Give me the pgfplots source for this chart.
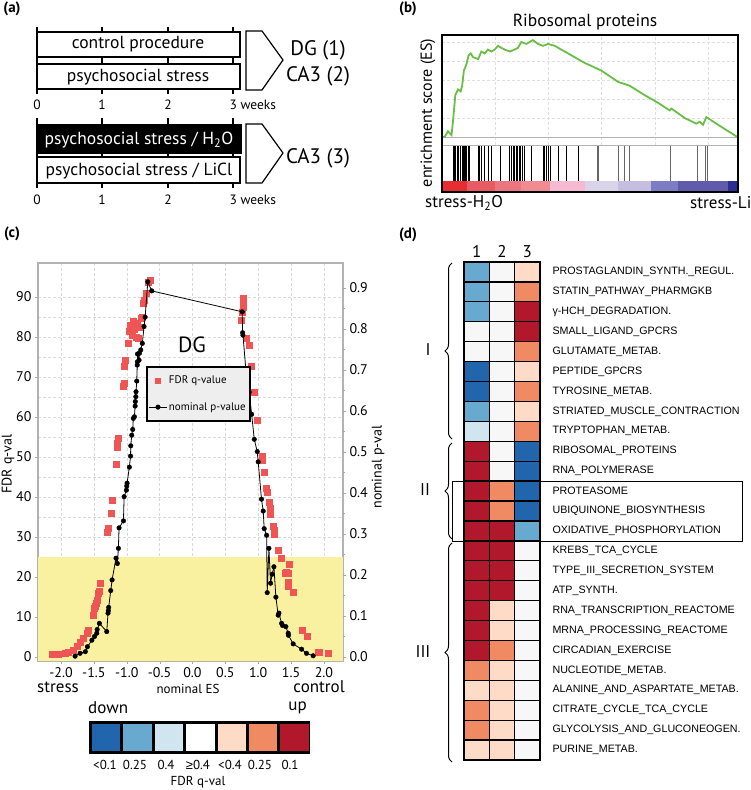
\documentclass[border=0pt]{standalone}
\usepackage{pgfplots}
\pgfplotsset{compat=1.18}
\usepackage{fontspec}
\setmainfont{PT Sans}
\newfontfamily\arial{Liberation Sans}
\usetikzlibrary{decorations.pathreplacing}
\newcommand{\fs}[1]{\fontsize{#1pt}{#1pt}\selectfont}
\definecolor{qB}{RGB}{33,102,172}
\definecolor{qb}{RGB}{103,169,207}
\definecolor{ql}{RGB}{209,229,240}
\definecolor{qw}{RGB}{247,247,247}
\definecolor{qp}{RGB}{253,219,199}
\definecolor{qo}{RGB}{239,138,98}
\definecolor{qr}{RGB}{178,24,43}
\definecolor{fdrred}{RGB}{240,85,85}
\definecolor{esgreen}{RGB}{106,190,69}
\definecolor{band}{RGB}{249,241,160}
\begin{document}
\begin{tikzpicture}[x=1pt,y=1pt]
\useasboundingbox (0,0) rectangle (750,790);
% ---------------- panel letters
\node[font=\bfseries\fs{15}] at (12,781) {(a)};
\node[font=\bfseries\fs{15}] at (408,781) {(b)};
\node[font=\bfseries\fs{15}] at (12,556) {(c)};
\node[font=\bfseries\fs{15}] at (408,555) {(d)};
% ---------------- panel (a)
\begin{scope}[line width=1.2pt]
\foreach \x in {37,102,168,233} {\draw (\x,763) -- (\x,696);}
\draw[fill=white] (37,758) rectangle (240,733);
\draw[fill=white] (37,726) rectangle (240,701);
\node[font=\fs{17.5}] at (138,746) {control procedure};
\node[font=\fs{17.5}] at (138,713) {psychosocial stress};
\draw (246,759) -- (262,759) -- (283,730) -- (262,700) -- (246,700) -- cycle;
\node[font=\fs{21}] at (318,740) {DG (1)};
\node[font=\fs{21}] at (318,714) {CA3 (2)};
\foreach \x/\l in {37/0,102/1,168/2} {\node[font=\fs{13.5}] at (\x,685) {\l};}
\node[font=\fs{13.5},anchor=west,inner sep=0pt] at (229,685) {3 weeks};
\foreach \x in {37,102,168,233} {\draw (\x,672) -- (\x,602);}
\draw[fill=black] (37,665) rectangle (241,637);
\draw[fill=white] (37,633) rectangle (240,607);
\node[font=\fs{17.5},text=white] at (139,650) {psychosocial stress / H\textsubscript{2}O};
\node[font=\fs{17.5}] at (139,619) {psychosocial stress / LiCl};
\draw (246,666) -- (262,666) -- (283,637) -- (262,607) -- (246,607) -- cycle;
\node[font=\fs{21}] at (318,632) {CA3 (3)};
\foreach \x/\l in {37/0,102/1,168/2} {\node[font=\fs{13.5}] at (\x,590) {\l};}
\node[font=\fs{13.5},anchor=west,inner sep=0pt] at (229,590) {3 weeks};
\end{scope}
% ---------------- panel (b)
\node[font=\fs{17.5}] at (585,768) {Ribosomal proteins};
\node[font=\fs{16},rotate=90] at (428,677) {enrichment score (ES)};
\node[font=\fs{17}] at (464,587) {stress-H\textsubscript{2}O};
\node[font=\fs{17},anchor=west,inner sep=0pt] at (690,587) {stress-Li};
\begin{axis}[at={(442pt,645pt)}, anchor=south west, scale only axis, width=296pt, height=110pt,
  xmin=0, xmax=100, ymin=-0.042, ymax=0.537,
  axis line style={draw=none}, xtick={17.9,35.9,53.9,71.9,89.9}, ytick={0.1,0.2,0.3,0.4,0.5},
  xticklabels={}, yticklabels={}, major tick length=0pt, grid=major, grid style={densely dashed, gray!25}]
\addplot[gray!60, line width=0.8pt] coordinates {(0,0) (100,0)};
\addplot[esgreen, line width=1.8pt] coordinates {
(0.3,0) (0.9,0) (2.0,0.03) (3.2,0.01) (3.7,0.08) (4.5,0.22) (5.4,0.25) (6.3,0.24) (6.8,0.27)
(7.4,0.35) (8.2,0.38) (9.0,0.43) (9.7,0.44) (10.5,0.42) (12.2,0.41) (13.3,0.45) (14.4,0.44)
(15.5,0.46) (16.7,0.45) (17.8,0.46) (18.9,0.48) (20.0,0.47) (21.2,0.46) (22.9,0.45) (24.5,0.46)
(25.7,0.47) (26.8,0.50) (28.5,0.49) (29.6,0.50) (30.7,0.51) (32.4,0.49) (34.1,0.48) (35.8,0.49)
(38.1,0.48) (40.3,0.46) (42.6,0.44) (48.2,0.39) (53.8,0.35) (59.5,0.29) (63.4,0.27) (68.5,0.22)
(73.0,0.18) (76.9,0.14) (77.5,0.15) (82.0,0.10) (85.9,0.07) (87.0,0.08) (88.2,0.065) (89.3,0.105)
(93.2,0.065) (99.8,0.0)};
\end{axis}
\begin{axis}[at={(442pt,609pt)}, anchor=south west, scale only axis, width=296pt, height=36pt,
  xmin=0, xmax=100, ymin=0, ymax=1, hide axis]
\addplot[ycomb, black, line width=0.7pt, mark=none] coordinates {
(3.7,1) (4.3,1) (4.6,1) (5.2,1) (5.6,1) (6.3,1) (6.8,1) (7.1,1) (7.4,1) (7.9,1) (8.3,1) (8.8,1)
(9.1,1) (12.2,1) (12.7,1) (13.3,1) (14.4,1) (15.5,1) (16.7,1) (19.7,1) (22.9,1) (23.4,1) (24.0,1)
(24.5,1) (25.0,1) (25.5,1) (26.0,1) (26.6,1) (27.1,1) (27.9,1) (30.2,1) (34.1,1) (34.7,1) (35.2,1)
(35.8,1) (36.6,1) (39.2,1) (42.0,1) (45.9,1)};
\addplot[ycomb, black!60, line width=0.7pt, mark=none] coordinates {
(52.4,1) (52.8,1) (59.5,1) (61.7,1) (63.4,1) (77.1,1) (86.3,1) (89.0,1) (89.6,1)};
\end{axis}
\begin{axis}[at={(442pt,599pt)}, anchor=south west, scale only axis, width=296pt, height=10pt,
  xmin=0, xmax=100, ymin=0, ymax=1, hide axis]
\addplot[draw=none, fill={rgb,255:red,230;green,45;blue,50}] coordinates {(0,0) (8.3,0) (8.3,1) (0,1)} -- cycle;
\addplot[draw=none, fill={rgb,255:red,232;green,90;blue,100}] coordinates {(8.3,0) (17.8,0) (17.8,1) (8.3,1)} -- cycle;
\addplot[draw=none, fill={rgb,255:red,236;green,118;blue,128}] coordinates {(17.8,0) (26.8,0) (26.8,1) (17.8,1)} -- cycle;
\addplot[draw=none, fill={rgb,255:red,240;green,140;blue,145}] coordinates {(26.8,0) (36.4,0) (36.4,1) (26.8,1)} -- cycle;
\addplot[draw=none, fill={rgb,255:red,245;green,185;blue,210}] coordinates {(36.4,0) (48.2,0) (48.2,1) (36.4,1)} -- cycle;
\addplot[draw=none, fill={rgb,255:red,218;green,212;blue,235}] coordinates {(48.2,0) (59.5,0) (59.5,1) (48.2,1)} -- cycle;
\addplot[draw=none, fill={rgb,255:red,198;green,190;blue,225}] coordinates {(59.5,0) (70.7,0) (70.7,1) (59.5,1)} -- cycle;
\addplot[draw=none, fill={rgb,255:red,125;green,125;blue,195}] coordinates {(70.7,0) (79.7,0) (79.7,1) (70.7,1)} -- cycle;
\addplot[draw=none, fill={rgb,255:red,95;green,90;blue,170}] coordinates {(79.7,0) (96.6,0) (96.6,1) (79.7,1)} -- cycle;
\addplot[draw=none, fill={rgb,255:red,45;green,45;blue,150}] coordinates {(96.6,0) (100,0) (100,1) (96.6,1)} -- cycle;
\end{axis}
\draw[gray!60, line width=0.8pt] (442,645) -- (738,645);
\draw[line width=1.5pt] (442,598) rectangle (738,755);
% ---------------- panel (c)
\begin{axis}[at={(38pt,129pt)}, anchor=south west, scale only axis, width=305pt, height=398pt,
  xmin=-2.35, xmax=2.29, ymin=-1, ymax=98.5,
  axis line style={gray!60, line width=1.5pt},
  xtick={-2,-1.5,-1,-0.5,0,0.5,1,1.5,2}, ytick={0,10,20,30,40,50,60,70,80,90},
  minor y tick num=1, xtick pos=bottom, ytick pos=left, tick align=outside,
  major tick length=3pt, minor tick length=0pt, tick style={gray!70},
  grid=both, major grid style={densely dashed, gray!30}, minor grid style={densely dashed, gray!30},
  tick label style={font=\fs{14}}, /pgf/number format/assume math mode=true,
  xticklabel style={/pgf/number format/.cd, fixed, fixed zerofill, precision=1}]
\addplot[draw=none, fill=band] coordinates {(-2.35,-1) (2.29,-1) (2.29,25) (-2.35,25)} -- cycle;
\addplot[only marks, mark=square*, mark size=3pt, fdrred] coordinates {
(-2.14,0.7) (-2.04,0.7) (-1.94,0.9) (-1.887,1.3) (-1.81,1.75) (-1.76,2.6) (-1.71,3.6) (-1.66,4.7)
(-1.60,5.9) (-1.583,6.75) (-1.517,10.5) (-1.49,12.3) (-1.482,12.6) (-1.47,13.4) (-1.456,14.25)
(-1.432,15.9) (-1.42,16.5) (-1.406,18.4) (-1.295,31.1) (-1.289,32.2) (-1.243,35.9) (-1.223,39.1)
(-1.163,48.25) (-1.143,52.4) (-1.138,53.4) (-1.127,54.8) (-1.05,67.6) (-1.04,68.4) (-1.04,72.6)
(-1.026,74.25) (-0.975,78.4) (-0.96,81.5) (-0.94,83) (-0.92,80.5) (-0.9,84) (-0.88,82) (-0.86,80)
(-0.84,83.5) (-0.82,79.8) (-0.80,82.5) (-0.78,84.8) (-0.772,85) (-0.747,88.4) (-0.73,89.25)
(-0.71,90.9) (-0.67,93.8) (-0.646,94.1)
(0.748,84.25) (0.757,86.2) (0.765,87.5) (0.772,88.8) (0.775,89.8) (0.824,79.7) (0.863,78)
(0.9,72.75) (0.94,66.2) (0.99,59.25) (1.061,50.25) (1.066,49.1) (1.091,46.1) (1.128,42.2)
(1.138,41.3) (1.168,38.8) (1.18,37.1) (1.19,35.6) (1.228,32.75) (1.24,31.75) (1.25,30.75)
(1.304,26.75) (1.345,24.8) (1.415,21) (1.432,21.3) (1.456,21) (1.471,23.25) (1.456,18.8)
(1.46,17.75) (1.532,16.3) (1.674,6.6) (1.745,5.1) (1.912,1.3) (1.93,1.2) (2.064,0.9)};
\end{axis}
\begin{axis}[at={(38pt,129pt)}, anchor=south west, scale only axis, width=305pt, height=398pt,
  xmin=-2.35, xmax=2.29, ymin=-0.00976, ymax=0.961,
  axis line style={draw=none}, xtick=\empty,
  ytick={0,0.1,0.2,0.3,0.4,0.5,0.6,0.7,0.8,0.9}, minor y tick num=1,
  ytick pos=right, tick align=outside, major tick length=3pt, minor tick length=2pt, tick style={gray!70},
  tick label style={font=\fs{14}}, /pgf/number format/assume math mode=true,
  yticklabel style={/pgf/number format/.cd, fixed, fixed zerofill, precision=1},
  legend style={at={(rel axis cs:0.354,0.741)}, anchor=north west, draw=black, line width=2.2pt,
    fill=gray!13, font=\fs{11}, inner xsep=2pt, inner ysep=7pt, row sep=13pt, cells={anchor=west}},
  legend cell align=left]
\addlegendimage{only marks, mark=square*, mark size=2.4pt, fdrred, line width=0.4pt}
\addlegendentry{FDR q-value}
\addplot[black, line width=0.8pt, mark=*, mark size=2.3pt, mark options={line width=0.4pt}] coordinates {
(-1.786,0.002) (-1.71,0.009) (-1.63,0.013) (-1.598,0.025) (-1.53,0.041) (-1.49,0.050) (-1.456,0.058)
(-1.45,0.067) (-1.416,0.082) (-1.304,0.062) (-1.285,0.107) (-1.28,0.113) (-1.275,0.121)
(-1.243,0.162) (-1.223,0.188) (-1.163,0.241) (-1.143,0.228) (-1.127,0.265) (-1.117,0.315)
(-1.05,0.332) (-1.04,0.391) (-1.005,0.407) (-1.0,0.417) (-0.995,0.424) (-0.96,0.463)
(-0.942,0.49) (-0.939,0.515) (-0.924,0.541) (-0.909,0.555) (-0.9,0.582) (-0.884,0.586)
(-0.872,0.612) (-0.869,0.623) (-0.862,0.635) (-0.859,0.647) (-0.848,0.673) (-0.84,0.712)
(-0.838,0.720) (-0.836,0.739) (-0.813,0.724) (-0.807,0.741) (-0.787,0.749) (-0.763,0.765)
(-0.737,0.806) (-0.72,0.829) (-0.68,0.915) (-0.62,0.893)
(0.757,0.842) (0.763,0.791) (0.768,0.785) (0.833,0.661) (0.863,0.646) (0.9,0.592) (0.94,0.531)
(0.985,0.501) (1.0,0.476) (1.05,0.385) (1.076,0.356) (1.091,0.313) (1.128,0.297) (1.137,0.157)
(1.163,0.265) (1.188,0.18) (1.213,0.202) (1.239,0.22) (1.269,0.146) (1.304,0.102) (1.315,0.107)
(1.356,0.082) (1.37,0.077) (1.42,0.074) (1.456,0.058) (1.46,0.053) (1.532,0.032) (1.66,0.019)
(1.735,0.009) (1.836,0.003)};
\addlegendentry{nominal p-value}
\end{axis}
\node[font=\fs{14},rotate=90] at (8,326) {FDR q-val};
\node[font=\fs{14},rotate=90] at (378,323) {nominal p-val};
\node[font=\fs{22}] at (192,445) {DG};
\node[font=\fs{17},anchor=west,inner sep=0pt] at (37,103) {stress};
\node[font=\fs{13}] at (188,101) {nominal ES};
\node[font=\fs{17},anchor=east,inner sep=0pt] at (345,103) {control};
% colour key
\node[font=\fs{17},anchor=west,inner sep=0pt] at (88,82) {down};
\node[font=\fs{17},anchor=east,inner sep=0pt] at (307,82) {up};
\fill[black] (89,36) rectangle (310,69);
\foreach \c [count=\i from 0] in {qB,qb,ql,white,qp,qo,qr} {
  \fill[\c] ({92+\i*31.4},39) rectangle ({92+\i*31.4+28.4},66);}
\foreach \x/\l in {105/{<0.1},135/0.25,166/0.4,230/{<0.4},260/0.25,290/0.1} {
  \node[font=\fs{13}] at (\x,25) {\l};}
\node[font=\fs{13}] at (198,25) {{\arial ≥}0.4};
\node[font=\fs{13}] at (198,8) {FDR q-val};
% ---------------- panel (d)
\begin{axis}[at={(464pt,30pt)}, anchor=south west, scale only axis, width=76pt, height=498pt,
  xmin=0.5, xmax=3.5, ymin=0.5, ymax=25.5, y dir=reverse,
  colormap={rdbu}{rgb255=(33,102,172) rgb255=(103,169,207) rgb255=(209,229,240) rgb255=(247,247,247)
    rgb255=(253,219,199) rgb255=(239,138,98) rgb255=(178,24,43)},
  colormap access=direct, /pgf/number format/assume math mode=true,
  xtick={1,2,3}, xticklabel pos=top, xticklabel style={font=\fs{17}, yshift=1pt},
  ytick={1,...,25}, yticklabel pos=right,
  yticklabel style={font=\arial\fs{10.7}, anchor=west, xshift=9pt},
  yticklabels={PROSTAGLANDIN\_SYNTH.\_REGUL., STATIN\_PATHWAY\_PHARMGKB, γ-HCH\_DEGRADATION.,
   SMALL\_LIGAND\_GPCRS, GLUTAMATE\_METAB., PEPTIDE\_GPCRS, TYROSINE\_METAB.,
   STRIATED\_MUSCLE\_CONTRACTION, TRYPTOPHAN\_METAB., RIBOSOMAL\_PROTEINS, RNA\_POLYMERASE,
   PROTEASOME, UBIQUINONE\_BIOSYNTHESIS, OXIDATIVE\_PHOSPHORYLATION, KREBS\_TCA\_CYCLE,
   TYPE\_III\_SECRETION\_SYSTEM, ATP\_SYNTH., RNA\_TRANSCRIPTION\_REACTOME,
   MRNA\_PROCESSING\_REACTOME, CIRCADIAN\_EXERCISE, NUCLEOTIDE\_METAB.,
   ALANINE\_AND\_ASPARTATE\_METAB., CITRATE\_CYCLE\_TCA\_CYCLE, GLYCOLYSIS\_AND\_GLUCONEOGEN.,
   PURINE\_METAB.},
  minor xtick={1.5,2.5}, minor ytick={1.5,2.5,...,24.5},
  xminorgrids, yminorgrids, minor grid style={black, line width=1.3pt},
  major tick length=0pt, minor tick length=0pt,
  axis on top, axis line style={line width=1.8pt}]
\addplot[matrix plot*, mesh/cols=3, point meta=explicit] table[meta=c] {
x y c
1 1 1
2 1 3
3 1 4
1 2 1
2 2 3
3 2 5
1 3 1
2 3 3
3 3 6
1 4 3
2 4 3
3 4 6
1 5 3
2 5 3
3 5 5
1 6 0
2 6 3
3 6 4
1 7 0
2 7 3
3 7 5
1 8 1
2 8 3
3 8 4
1 9 2
2 9 3
3 9 5
1 10 6
2 10 3
3 10 0
1 11 6
2 11 3
3 11 0
1 12 6
2 12 5
3 12 0
1 13 6
2 13 5
3 13 0
1 14 6
2 14 6
3 14 1
1 15 6
2 15 6
3 15 3
1 16 6
2 16 6
3 16 3
1 17 6
2 17 6
3 17 3
1 18 6
2 18 4
3 18 3
1 19 6
2 19 4
3 19 3
1 20 6
2 20 5
3 20 3
1 21 5
2 21 4
3 21 3
1 22 4
2 22 4
3 22 3
1 23 5
2 23 4
3 23 3
1 24 5
2 24 4
3 24 3
1 25 4
2 25 4
3 25 3
};
\end{axis}
\draw[line width=0.9pt] (452,309) rectangle (742,249);
\draw[line width=1pt, decorate, decoration={brace, amplitude=7pt}] (452,351) -- (452,527);
\draw[line width=1pt, decorate, decoration={brace, amplitude=7pt}] (452,251) -- (452,347);
\draw[line width=1pt, decorate, decoration={brace, amplitude=7pt}] (452,28) -- (452,247);
\node[font=\fs{17}] at (428,440) {I};
\node[font=\fs{17}] at (425,300) {II};
\node[font=\fs{17}] at (423,138) {III};
\end{tikzpicture}
\end{document}
